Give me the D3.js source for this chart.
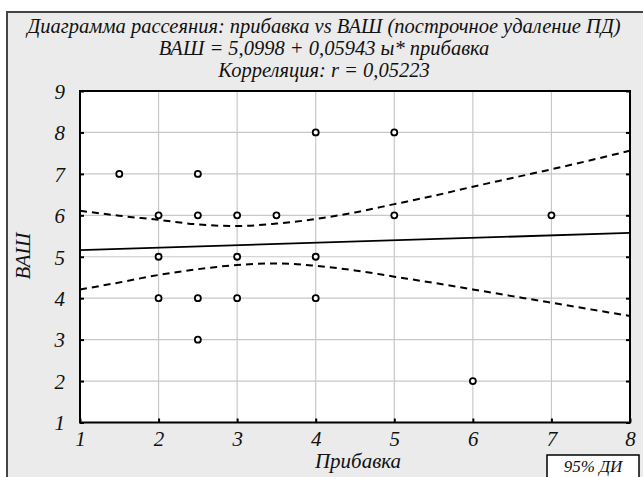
<!DOCTYPE html>
<html><head><meta charset="utf-8">
<script src="https://cdn.jsdelivr.net/npm/d3@7"></script>
<style>body{margin:0;background:#fff}svg{display:block}text{font-family:"Liberation Serif","DejaVu Serif Condensed","DejaVu Serif",serif;font-style:italic;fill:#111}</style>
</head><body><svg id="c" width="643" height="477"></svg>
<script>
const titleLines = ["Диаграмма рассеяния: прибавка vs ВАШ (построчное удаление ПД)",
  "ВАШ = 5,0998 + 0,05943 ы* прибавка", "Корреляция: r = 0,05223"];
const xLabel = "Прибавка", yLabel = "ВАШ", legendLabel = "95% ДИ";
const xTicks = [1,2,3,4,5,6,7,8];
const yTicks = [1,2,3,4,5,6,7,8,9];
const pointX = [1.5,2,2,2,2.5,2.5,2.5,2.5,3,3,3,3.5,4,4,4,5,5,6,7];
const pointY = [7,6,5,4,7,6,4,3,6,5,4,6,8,5,4,8,6,2,6];
const fitX = [1,8];
const fitY = [5.159,5.575];
const bandX = [1,1.5,2,2.5,3,3.5,4,4.5,5,5.5,6,6.5,7,7.5,8];
const upperY = [6.11,5.99,5.89,5.78,5.74,5.80,5.91,6.07,6.27,6.47,6.69,6.90,7.11,7.33,7.56];
const lowerY = [4.21,4.38,4.56,4.70,4.80,4.84,4.78,4.67,4.52,4.37,4.21,4.05,3.89,3.73,3.57];

const svg = d3.select("#c");
svg.append("rect").attr("x",7).attr("y",12).attr("width",640).attr("height",470)
  .attr("fill","#ebebeb").attr("stroke","#444").attr("stroke-width",2);

const L=80,R=630,T=91,B=422.5;
const x = d3.scaleLinear().domain([1,8]).range([L,R]);
const y = d3.scaleLinear().domain([1,9]).range([B,T]);

svg.append("rect").attr("x",L).attr("y",T).attr("width",R-L).attr("height",B-T).attr("fill","#fff");
svg.append("g").selectAll("line").data(xTicks.slice(1,-1)).join("line")
  .attr("x1",d=>x(d)).attr("x2",d=>x(d)).attr("y1",T).attr("y2",B).attr("stroke","#c8c8c8").attr("stroke-width",1.2);
svg.append("g").selectAll("line").data(yTicks.slice(1,-1)).join("line")
  .attr("y1",d=>y(d)).attr("y2",d=>y(d)).attr("x1",L).attr("x2",R).attr("stroke","#c8c8c8").attr("stroke-width",1.2);

const ax = d3.axisBottom(x).tickValues(xTicks).tickSize(-4).tickPadding(9).tickFormat(d3.format("d"));
const gx = svg.append("g").attr("transform",`translate(0,${B})`).call(ax);
const ay = d3.axisLeft(y).tickValues(yTicks).tickSize(-4).tickPadding(15).tickFormat(d3.format("d"));
const gy = svg.append("g").attr("transform",`translate(${L},0)`).call(ay);
const ayr = d3.axisRight(y).tickValues(yTicks).tickSize(-4).tickFormat("");
const gyr = svg.append("g").attr("transform",`translate(${R},0)`).call(ayr);
[gx,gy,gyr].forEach(g=>{g.attr("font-family",null).attr("font-size",null);g.select(".domain").remove();g.selectAll(".tick line").attr("stroke","#000").attr("stroke-width",2);});
gx.selectAll("text").style("font-size","21px");
gy.selectAll("text").style("font-size","21px").attr("dy","0.35em");
svg.append("rect").attr("x",L).attr("y",T).attr("width",R-L).attr("height",B-T)
  .attr("fill","none").attr("stroke","#000").attr("stroke-width",2);

const line = d3.line().x(d=>x(d[0])).y(d=>y(d[1])).curve(d3.curveMonotoneX);
svg.append("path").attr("d",line(d3.zip(fitX,fitY))).attr("fill","none").attr("stroke","#000").attr("stroke-width",1.8);
[upperY,lowerY].forEach(a=>{
  svg.append("path").attr("d",line(d3.zip(bandX,a))).attr("fill","none").attr("stroke","#000")
    .attr("stroke-width",2).attr("stroke-dasharray","7,5");
});
svg.append("g").selectAll("circle").data(d3.zip(pointX,pointY)).join("circle")
  .attr("cx",d=>x(d[0])).attr("cy",d=>y(d[1])).attr("r",3).attr("fill","#fff")
  .attr("stroke","#000").attr("stroke-width",1.8);

svg.append("g").selectAll("text").data(titleLines).join("text")
  .attr("x",324).attr("y",(d,i)=>33+i*22).attr("text-anchor","middle").style("font-size","20.5px").text(d=>d);
svg.append("text").attr("x",358).attr("y",468).attr("text-anchor","middle").style("font-size","21px").text(xLabel);
svg.append("text").attr("transform","translate(30,256) rotate(-90)").attr("text-anchor","middle").style("font-size","21px").text(yLabel);
svg.append("rect").attr("x",547).attr("y",455).attr("width",92).attr("height",30).attr("fill","#fff").attr("stroke","#000").attr("stroke-width",1.5);
svg.append("text").attr("x",593).attr("y",472).attr("text-anchor","middle").style("font-size","17px").text(legendLabel);
</script></body></html>
